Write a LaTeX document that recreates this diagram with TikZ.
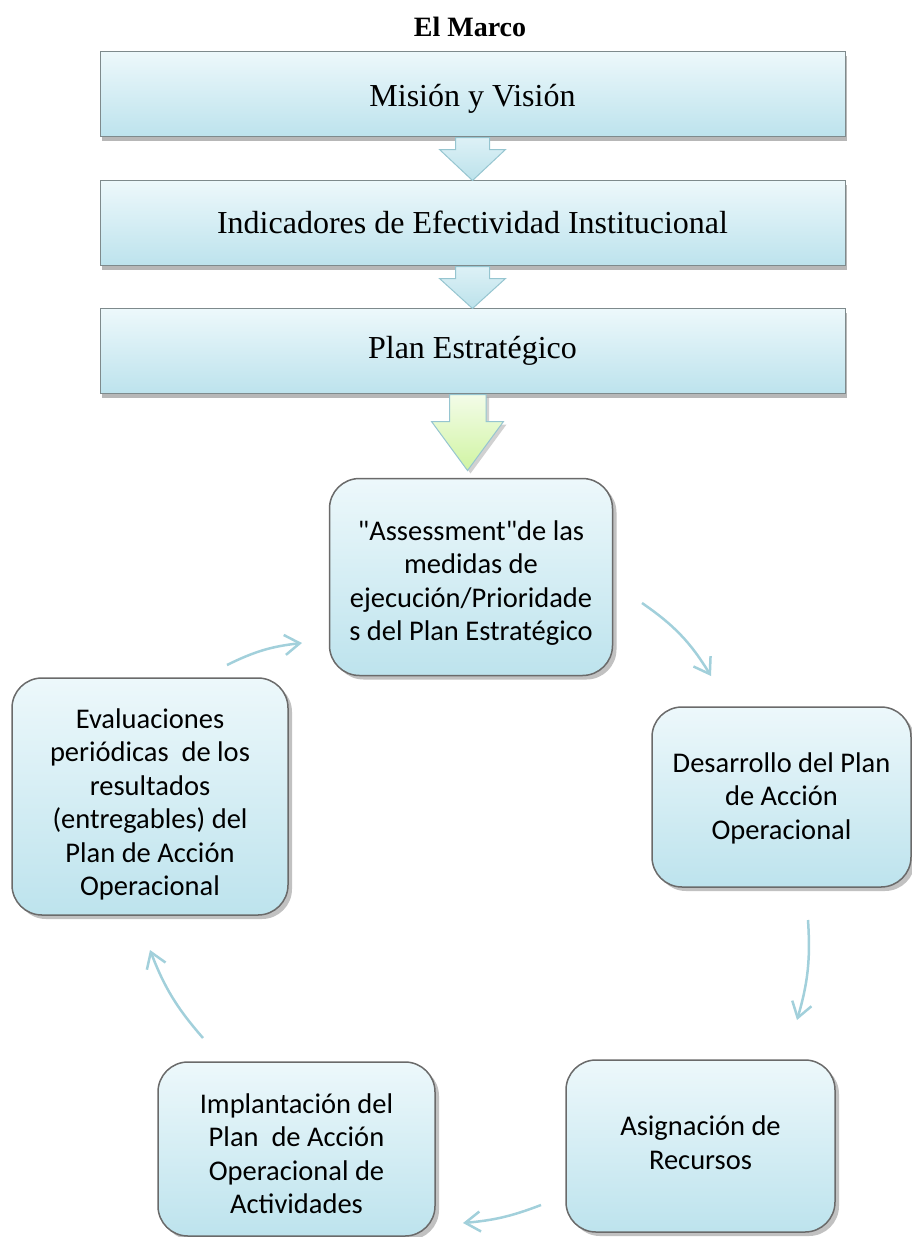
\documentclass[tikz,border=0pt]{standalone}
\usepackage{fontspec}
\setmainfont{Liberation Serif}
\newfontfamily\calfont{Carlito}
\usetikzlibrary{shadows,arrows.meta,calc}
\definecolor{boxtop}{HTML}{EDF8FB}
\definecolor{boxbot}{HTML}{BDE3ED}
\definecolor{rectborder}{HTML}{7E8A8C}
\definecolor{roundborder}{HTML}{6A6A6A}
\definecolor{arrtop}{HTML}{DDF1F6}
\definecolor{arrbot}{HTML}{BCE2EB}
\definecolor{arrborder}{HTML}{96C5D0}
\definecolor{greentop}{HTML}{F3FCE8}
\definecolor{greenbot}{HTML}{D0F4A2}
\definecolor{cyclearrow}{HTML}{A2D0DB}
% lowered multi-line text that keeps its box size
\newcommand\celltext[2]{\raisebox{#1}[\height][\depth]{\begin{tabular}{@{}c@{}}#2\end{tabular}}}
\begin{document}
\begin{tikzpicture}[x=1pt,y=-1pt,
  rectbox/.style={draw=rectborder, line width=1pt, top color=boxtop, bottom color=boxbot,
    minimum width=745pt, minimum height=85pt, inner sep=0pt,
    font=\fontsize{32}{36}\selectfont,
    drop shadow={shadow xshift=2pt, shadow yshift=-5pt, opacity=0.4, fill=black!70}},
  cyclebox/.style={draw=roundborder, line width=1.5pt, rounded corners=30pt,
    top color=boxtop, bottom color=boxbot, inner sep=0pt, align=center,
    font=\calfont\fontsize{28.5}{33.5}\selectfont,
    drop shadow={shadow xshift=4pt, shadow yshift=-4pt, opacity=0.35, fill=black!70}},
  blockarrow/.style={draw=arrborder, line width=1pt, top color=arrtop, bottom color=arrbot, line join=miter},
  greenarrow/.style={draw=arrborder, line width=1pt, top color=greentop, bottom color=greenbot, line join=miter,
    drop shadow={shadow xshift=3pt, shadow yshift=-3pt, opacity=0.3, fill=black!60}},
  cyclearr/.style={draw=cyclearrow, line width=2.5pt, -{Straight Barb[length=15pt,width=20pt,line width=2.5pt]}}
]
\useasboundingbox (0,0) rectangle (911,1237);

% title
\node[font=\bfseries\fontsize{28}{32}\selectfont] (title) at (470,27) {El Marco};

% top rectangles
\node[rectbox] (b1) at (472.5,93.5) {\raisebox{-5pt}[\height][\depth]{Misión y Visión}};
\node[rectbox] (b2) at (472.5,222.5) {Indicadores de Efectividad Institucional};
\node[rectbox] (b3) at (472.5,350.5) {Plan Estratégico};

% block arrows
\path[blockarrow] ($(b1.south)+(-17,1)$) -- ($(b1.south)+(17,1)$) -- ($(b1.south)+(17,13)$)
  -- ($(b1.south)+(33,13)$) -- ($(b2.north)+(0,1)$) -- ($(b1.south)+(-33,13)$)
  -- ($(b1.south)+(-17,13)$) -- cycle;
\path[blockarrow] ($(b2.south)+(-17,1)$) -- ($(b2.south)+(17,1)$) -- ($(b2.south)+(17,13)$)
  -- ($(b2.south)+(33,13)$) -- ($(b3.north)+(0,1)$) -- ($(b2.south)+(-33,13)$)
  -- ($(b2.south)+(-17,13)$) -- cycle;

% cycle nodes
\node[cyclebox, minimum width=283pt, minimum height=197pt] (A) at (471,577)
  {\celltext{-7pt}{"Assessment"de las\\medidas de\\ejecución/Prioridade\\s del Plan Estratégico}};
\node[cyclebox, minimum width=259pt, minimum height=180pt] (B) at (781.5,797)
  {\celltext{-2pt}{Desarrollo del Plan\\de Acción\\Operacional}};
\node[cyclebox, minimum width=269pt, minimum height=172pt] (C) at (700.5,1146)
  {\celltext{0pt}{Asignación de\\Recursos}};
\node[cyclebox, minimum width=277pt, minimum height=174pt] (D) at (296.5,1149)
  {\celltext{-8pt}{Implantación del\\Plan\ \ de Acción\\Operacional de\\Actividades}};
\node[cyclebox, minimum width=276pt, minimum height=237pt] (E) at (150,796.5)
  {\celltext{-9pt}{Evaluaciones\\periódicas\ \ de los\\resultados\\(entregables) del\\Plan de Acción\\Operacional}};

% green arrow from plan to cycle
\path[greenarrow] ($(b3.south)+(-23,1)$) -- ($(b3.south)+(13.5,1)$) -- ($(b3.south)+(13.5,28)$)
  -- ($(b3.south)+(31,28)$) -- ($(b3.south)+(-5,77)$) -- ($(b3.south)+(-41,28)$)
  -- ($(b3.south)+(-23,28)$) -- cycle;

% cycle arrows
\coordinate (a1s) at (642,603);  \coordinate (a1e) at (711,676);
\coordinate (a2s) at (808,920);  \coordinate (a2e) at (797,1020);
\coordinate (a3s) at (541,1205); \coordinate (a3e) at (463,1223);
\coordinate (a4s) at (203,1038); \coordinate (a4e) at (150,950);
\coordinate (a5s) at (227,665);  \coordinate (a5e) at (302,643);
\draw[cyclearr] (a1s) to[bend left=12] (a1e);
\draw[cyclearr] (a2s) to[bend left=10] (a2e);
\draw[cyclearr] (a3s) to[bend left=8] (a3e);
\draw[cyclearr] (a4s) to[bend left=10] (a4e);
\draw[cyclearr] (a5s) to[bend left=10] (a5e);
\end{tikzpicture}
\end{document}
